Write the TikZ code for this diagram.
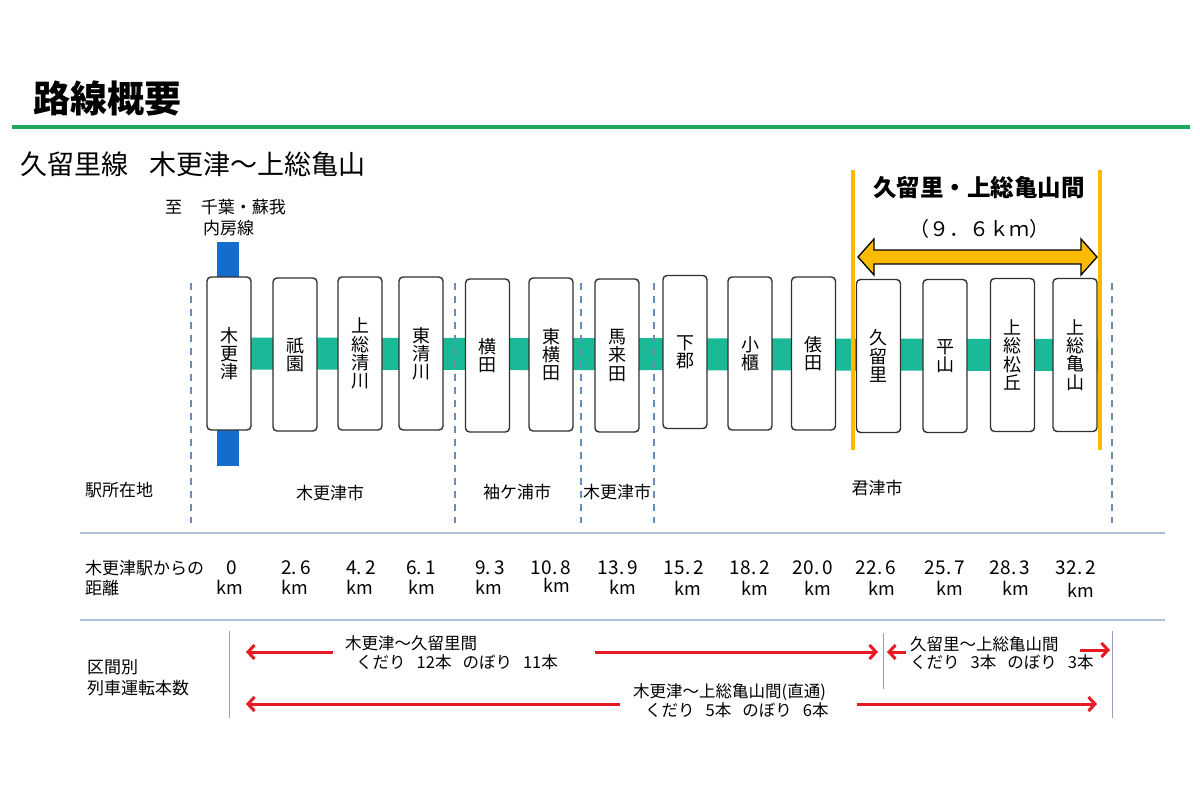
\documentclass[tikz,border=0pt]{standalone}
\usepackage{fontspec}
\setmainfont{Noto Sans CJK JP}
\usetikzlibrary{arrows.meta,backgrounds}

\definecolor{rulegreen}{RGB}{30,168,92}
\definecolor{trackgreen}{RGB}{26,186,152}
\definecolor{naiboblue}{RGB}{20,108,204}
\definecolor{sectionyellow}{RGB}{252,186,0}
\definecolor{bounddash}{RGB}{104,142,182}
\definecolor{sepline}{RGB}{172,192,214}
\definecolor{arrowred}{RGB}{232,26,34}
\definecolor{boxedge}{RGB}{48,48,48}

\newcommand\fsz[1]{\fontsize{#1}{#1}\selectfont}

\begin{document}
\begin{tikzpicture}[x=1pt,y=-1pt,
  stn/.style={draw=boxedge,line width=1.4pt,fill=white,rounded corners=4pt,
    minimum width=44pt,minimum height=153pt,inner sep=0pt,align=center,
    font=\fontsize{18}{18.2}\selectfont},
  txt/.style={inner sep=0pt,font=\fsz{17}},
  small/.style={inner sep=0pt,font=\fsz{16.5}},
  dist/.style={inner sep=0pt,font=\fsz{19}},
  kmtxt/.style={inner sep=0pt,font=\fsz{18}},
  bound/.style={draw=bounddash,line width=1.8pt,dash pattern=on 7pt off 6pt},
  sep/.style={draw=sepline,line width=1.6pt},
  vsep/.style={draw=sepline!85!black,line width=1pt},
  redarr/.style={draw=arrowred,line width=3pt,-{Straight Barb[length=6.5pt,width=14pt]}},
  gold/.style={draw=sectionyellow,line width=4.5pt},
]
\useasboundingbox (0,0) rectangle (1200,800);

% heading and rule
\node[inner sep=0pt,anchor=west,font=\bfseries\fsz{37}] (title) at (33,98) {路線概要};
\draw[rulegreen,line width=4.5pt] (12,127) -- (1190,127);
\node[inner sep=0pt,anchor=west,font=\fsz{27}] (subtitle) at (20,164)
  {久留里線\hspace{21pt}木更津～上総亀山};

% branch line label
\node[txt] (naibodir) at (225.5,207) {至\hspace{19pt}千葉・蘇我};
\node[txt] (naibo) at (228.5,228) {内房線};

% stations
\foreach \i/\x/\y/\t in {
  1/229/353.5/{木\\更\\津},
  2/295/354.5/{祇\\園},
  3/360/353.5/{上\\総\\清\\川},
  4/421/353.5/{東\\清\\川},
  5/487.5/355.5/{横\\田},
  6/551/354.5/{東\\横\\田},
  7/617/355.5/{馬\\来\\田},
  8/685/352/{下\\郡},
  9/750/353.5/{小\\櫃},
  10/813.5/353.5/{俵\\田},
  11/878.5/356/{久\\留\\里},
  12/945/356/{平\\山},
  13/1012.5/355/{上\\総\\松\\丘},
  14/1075/355/{上\\総\\亀\\山}}
  {\node[stn] (s\i) at (\x,\y) {\t};}

% track and crossing line behind the station boxes
\coordinate (nbtop) at (228,242);
\coordinate (nbbot) at (228,466);
\begin{scope}[on background layer]
  \draw[trackgreen,line width=32pt] (s1.center) -- (s14.east);
  \draw[naiboblue,line width=22pt] (nbtop) -- (nbbot);
\end{scope}

% municipal boundaries
\foreach \x in {191,455,581,654,1112}
  \draw[bound] (\x,283) -- (\x,523);

% Kururi - Kazusa-Kameyama section
\draw[gold] (853,170) -- (853,450);
\draw[gold] (1100,170) -- (1100,450);
\node[inner sep=0pt,font=\bfseries\fsz{23.5}] (sectname) at (979,187) {久留里・上総亀山間};
\node[inner sep=0pt,font=\fsz{20}] (sectlen) at (979,229) {（９．６ｋｍ）};
\fill[sectionyellow,draw=black,line width=1.3pt,line join=miter]
  (858,257) -- (874,239) -- (874,250) -- (1081,250) -- (1081,239) -- (1097,257)
  -- (1081,275) -- (1081,264) -- (874,264) -- (874,275) -- cycle;

% row: location
\node[txt,anchor=west] (hdloc) at (85,490) {駅所在地};
\node[txt] (c1) at (330,493) {木更津市};
\node[txt] (c2) at (517,492) {袖ケ浦市};
\node[txt] (c3) at (617,492) {木更津市};
\node[txt] (c4) at (877,488) {君津市};

\draw[sep] (80,533) -- (1165,533);

% row: distance
\node[txt,anchor=west] (hddist1) at (85,568) {木更津駅からの};
\node[txt,anchor=west] (hddist2) at (85,588) {距離};
\foreach \i/\x/\v/\kx/\ky in {
  1/232/{0}/230/587,
  2/296/{2.\,6}/295/587,
  3/361/{4.\,2}/360/587,
  4/421/{6.\,1}/422/587,
  5/490/{9.\,3}/489/587,
  6/551/{10.\,8}/557/585,
  7/618/{13.\,9}/623/587,
  8/684/{15.\,2}/688/588,
  9/750/{18.\,2}/755/588,
  10/813/{20.\,0}/818/588,
  11/876/{22.\,6}/882/588,
  12/945/{25.\,7}/950/588,
  13/1010/{28.\,3}/1016/588,
  14/1076/{32.\,2}/1081/590}
  {\node[dist] (d\i) at (\x,568) {\v};
   \node[kmtxt] (k\i) at (\kx,\ky) {km};}

\draw[sep] (80,620) -- (1165,620);

% row: trains per section
\node[txt,anchor=west] (hdfreq1) at (87,667) {区間別};
\node[txt,anchor=west] (hdfreq2) at (87,688) {列車運転本数};
\draw[vsep] (229,631) -- (229,718);
\draw[vsep] (883,633) -- (883,689);
\draw[vsep] (1112,631) -- (1112,718);

\coordinate (a1l) at (246,652);
\coordinate (a1m) at (333,652);
\coordinate (a1n) at (595,652);
\coordinate (a1r) at (878,652);
\draw[redarr] (a1m) -- (a1l);
\draw[redarr] (a1n) -- (a1r);
\node[small,anchor=west] (f1a) at (345,643) {木更津～久留里間};
\node[small,anchor=west] (f1b) at (356,662) {くだり\hspace{11pt}12本\hspace{11pt}のぼり\hspace{11pt}11本};

\coordinate (a2l) at (887,652);
\coordinate (a2m) at (906,652);
\coordinate (a2n) at (1080,650);
\coordinate (a2r) at (1110,650);
\draw[redarr] (a2m) -- (a2l);
\draw[redarr] (a2n) -- (a2r);
\node[small,anchor=west] (f2a) at (910,644) {久留里～上総亀山間};
\node[small,anchor=west] (f2b) at (910,662) {くだり\hspace{11pt}3本\hspace{11pt}のぼり\hspace{11pt}3本};

\coordinate (a3l) at (246,704);
\coordinate (a3m) at (620,704);
\coordinate (a3n) at (857,704);
\coordinate (a3r) at (1097,704);
\draw[redarr] (a3m) -- (a3l);
\draw[redarr] (a3n) -- (a3r);
\node[small,anchor=west] (f3a) at (633,692) {木更津～上総亀山間(直通)};
\node[small,anchor=west] (f3b) at (645,710) {くだり\hspace{11pt}5本\hspace{11pt}のぼり\hspace{11pt}6本};
\end{tikzpicture}
\end{document}
